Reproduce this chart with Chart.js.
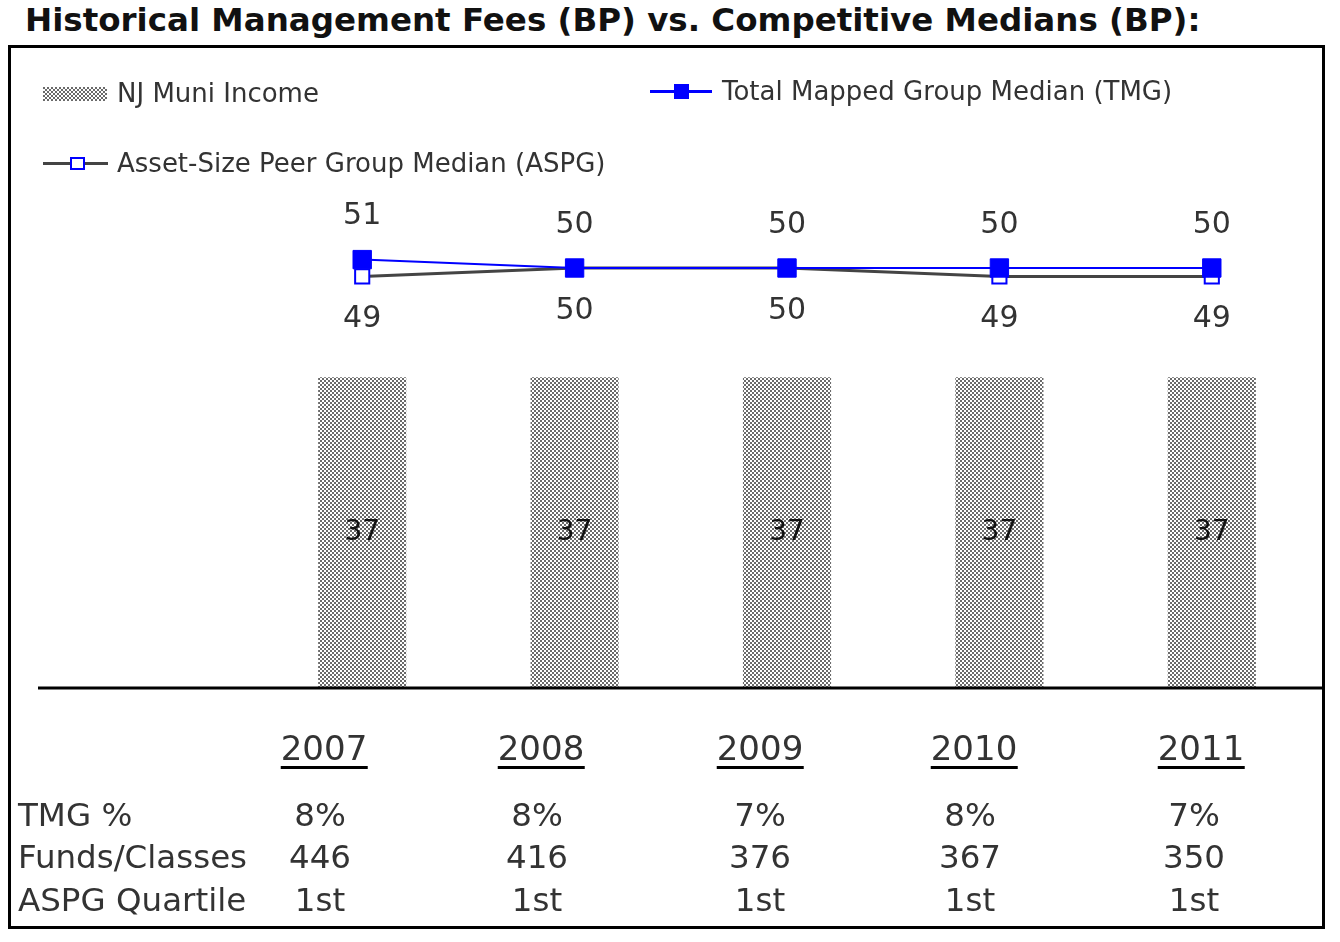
<!DOCTYPE html>
<html>
<head>
<meta charset="utf-8">
<script src="https://cdn.jsdelivr.net/npm/chart.js@4.4.1/dist/chart.umd.min.js"></script>
<style>
html,body{margin:0;padding:0;background:#fff;}
body{width:1340px;height:942px;position:relative;overflow:hidden;font-family:"DejaVu Sans",Verdana,sans-serif;color:#333;}
.abs{position:absolute;white-space:nowrap;line-height:1;}
#title{left:25px;top:4px;font-weight:bold;font-size:32.5px;color:#111;}
#frame{position:absolute;left:8px;top:45px;width:1311px;height:878px;border:3px solid #000;}
#chart{position:absolute;left:0;top:0;}
.leg{font-size:26px;color:#333;}
.yr{font-size:34px;color:#333;border-bottom:3px solid #000;padding-bottom:1px;transform:translateX(-50%);}
.cell{font-size:32.5px;color:#333;transform:translateX(-50%);}
.rowlab{font-size:32.5px;color:#333;left:18px;}
</style>
</head>
<body>
<div id="title" class="abs">Historical Management Fees (BP) vs. Competitive Medians (BP):</div>
<div id="frame"></div>
<canvas id="chart" width="1340" height="942"></canvas>

<!-- legend -->
<div id="swatch" style="position:absolute;left:43px;top:87px;width:64px;height:14px;"></div>
<div class="abs leg" style="left:117px;top:80px;">NJ Muni Income</div>

<div style="position:absolute;left:650px;top:90px;width:62px;height:3px;background:#0000ff;"></div>
<div style="position:absolute;left:674px;top:84px;width:15px;height:15px;background:#0000ff;"></div>
<div class="abs leg" style="left:722px;top:78px;">Total Mapped Group Median (TMG)</div>

<div style="position:absolute;left:43px;top:162px;width:65px;height:3px;background:#444;"></div>
<div style="position:absolute;left:70px;top:157px;width:11px;height:9px;border:2px solid #0000ff;background:#fff;"></div>
<div class="abs leg" style="left:117px;top:150px;">Asset-Size Peer Group Median (ASPG)</div>

<div id="table"></div>

<script>
// ---- data ----
const categories   = ['2007', '2008', '2009', '2010', '2011'];
const njMuniIncome = [37, 37, 37, 37, 37];
const tmgMedian    = [51, 50, 50, 50, 50];
const aspgMedian   = [49, 50, 50, 49, 49];
const rowLabels    = ['TMG %', 'Funds/Classes', 'ASPG Quartile'];
const tmgPct       = ['8%', '8%', '7%', '8%', '7%'];
const fundsClasses = ['446', '416', '376', '367', '350'];
const aspgQuartile = ['1st', '1st', '1st', '1st', '1st'];

// ---- layout (table positions) ----
const yearCenters = [324, 541, 760, 974, 1201];
const cellCenters = [320, 537, 760, 970, 1194];
const yearTop = 731;
const rowTops = [799, 841, 884];

// pattern for bars
function makePattern() {
  const c = document.createElement('canvas');
  c.width = 4; c.height = 4;
  const g = c.getContext('2d');
  g.fillStyle = '#ffffff'; g.fillRect(0, 0, 4, 4);
  g.fillStyle = '#6a6a6a';
  g.fillRect(0, 0, 2, 2);
  g.fillRect(2, 2, 2, 2);
  return c;
}
const patCanvas = makePattern();
const ctx0 = document.getElementById('chart').getContext('2d');
const barPattern = ctx0.createPattern(patCanvas, 'repeat');
const sw = document.getElementById('swatch');
sw.style.backgroundImage = 'url(' + patCanvas.toDataURL() + ')';

// table
let html = '';
categories.forEach((c, i) => {
  html += `<div class="abs yr" style="left:${yearCenters[i]}px;top:${yearTop}px;">${c}</div>`;
});
rowLabels.forEach((l, r) => {
  html += `<div class="abs rowlab" style="top:${rowTops[r]}px;">${l}</div>`;
});
[tmgPct, fundsClasses, aspgQuartile].forEach((row, r) => {
  row.forEach((v, i) => {
    html += `<div class="abs cell" style="left:${cellCenters[i]}px;top:${rowTops[r]}px;">${v}</div>`;
  });
});
document.getElementById('table').innerHTML = html;

const valueLabels = {
  id: 'valueLabels',
  afterDatasetsDraw(chart) {
    const ctx = chart.ctx;
    // axis line
    const y0 = chart.scales.y.getPixelForValue(0);
    ctx.save();
    ctx.strokeStyle = '#000';
    ctx.lineWidth = 3;
    ctx.beginPath();
    ctx.moveTo(38, y0);
    ctx.lineTo(1322, y0);
    ctx.stroke();
    ctx.restore();
    chart.data.datasets.forEach((ds, i) => {
      const meta = chart.getDatasetMeta(i);
      const cfg = ds.labelCfg;
      ctx.save();
      ctx.font = cfg.font;
      ctx.fillStyle = cfg.color;
      ctx.textAlign = 'center';
      ctx.textBaseline = 'middle';
      meta.data.forEach((el, j) => {
        const y = cfg.pos === 'center' ? (el.y + el.base) / 2 : el.y + cfg.offset;
        ctx.fillText(String(ds.data[j]), el.x, y);
      });
      ctx.restore();
    });
  }
};

new Chart(ctx0, {
  data: {
    labels: categories,
    datasets: [
      {
        type: 'line', label: 'Total Mapped Group Median (TMG)', data: tmgMedian,
        borderColor: '#0000ff', borderWidth: 2, backgroundColor: '#0000ff',
        pointStyle: 'rect', pointRadius: 13, pointBackgroundColor: '#0000ff', pointBorderColor: '#0000ff', pointBorderWidth: 1,
        order: 1, tension: 0,
        labelCfg: { font: '30px "DejaVu Sans"', color: '#333', offset: -43 }
      },
      {
        type: 'line', label: 'Asset-Size Peer Group Median (ASPG)', data: aspgMedian,
        borderColor: '#444', borderWidth: 3, backgroundColor: '#fff',
        pointStyle: 'rect', pointRadius: 10, pointBackgroundColor: '#fff', pointBorderColor: '#0000ff', pointBorderWidth: 2,
        order: 2, tension: 0,
        labelCfg: { font: '30px "DejaVu Sans"', color: '#333', offset: 43 }
      },
      {
        type: 'bar', label: 'NJ Muni Income', data: njMuniIncome,
        backgroundColor: barPattern, borderWidth: 0,
        barPercentage: 0.415, categoryPercentage: 1,
        order: 3,
        labelCfg: { font: '28px "DejaVu Sans"', color: '#111', pos: 'center' }
      }
    ]
  },
  options: {
    responsive: false,
    animation: false,
    devicePixelRatio: 1,
    layout: { padding: { left: 256, right: 22, top: 184, bottom: 254 } },
    plugins: { legend: { display: false }, tooltip: { enabled: false } },
    scales: {
      x: { display: false, offset: true, grid: { display: false } },
      y: { display: false, min: 0, max: 60 }
    }
  },
  plugins: [valueLabels]
});
</script>
</body>
</html>
